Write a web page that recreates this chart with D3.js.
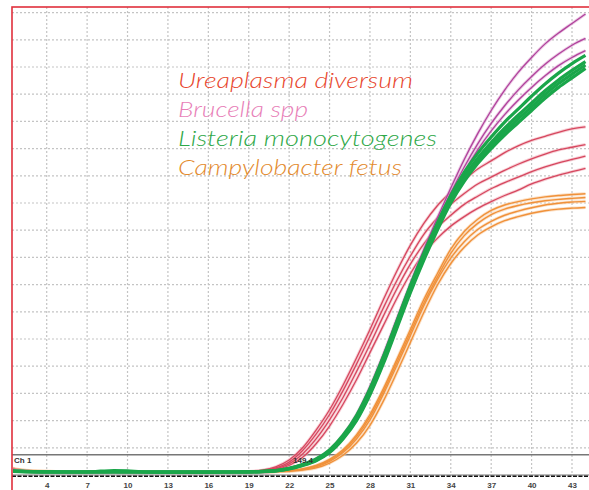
<!DOCTYPE html>
<html><head><meta charset="utf-8">
<script src="https://cdn.jsdelivr.net/npm/d3@7"></script>
<style>html,body{margin:0;padding:0;background:#fff;}svg{display:block;}</style>
</head><body>
<script>
const cycles = [1,2,3,4,5,6,7,8,9,10,11,12,13,14,15,16,17,18,19,20,21,22,23,24,25,26,27,28,29,30,31,32,33,34,35,36,37,38,39,40,41,42,43,44];
const tickCycles = [4,7,10,13,16,19,22,25,28,31,34,37,40,43];
const gridValues = [200,400,600,800,1000,1200,1400,1600,1800,2000,2200,2400,2600,2800,3000,3200,3400];
const threshold = 149.4;
const channelLabel = "Ch 1";
const legendNames = ["Ureaplasma diversum","Brucella spp","Listeria monocytogenes","Campylobacter fetus"];

// Ureaplasma diversum (red)
const ureaplasma = [
 [55,35,26,22,21,20,20,21,20,20,21,20,20,20,21,20,21,22,25,35,60,110,200,330,480,660,860,1070,1290,1500,1690,1850,1980,2080,2170,2250,2310,2370,2420,2460,2490,2520,2545,2560],
 [48,32,25,22,20,20,21,20,20,21,20,20,21,20,20,20,21,21,24,32,52,95,180,300,445,620,815,1020,1230,1430,1610,1770,1890,1990,2070,2140,2190,2240,2285,2325,2360,2390,2410,2430],
 [50,30,24,21,20,21,20,20,20,20,21,20,20,20,21,20,20,21,23,30,46,82,155,265,405,570,760,960,1170,1370,1550,1700,1820,1910,1990,2050,2105,2150,2190,2230,2265,2295,2320,2345],
 [45,30,24,21,20,20,20,21,20,20,20,21,20,20,20,20,21,21,22,28,40,70,130,230,360,520,700,900,1100,1300,1480,1630,1740,1830,1900,1960,2010,2055,2095,2140,2175,2205,2230,2255]
];
// Brucella spp (magenta)
const brucella = [
 [40,30,25,22,21,21,21,21,21,21,21,21,21,21,21,21,21,22,22,22,30,48,78,118,185,295,445,650,890,1150,1410,1660,1890,2110,2320,2510,2680,2830,2960,3070,3170,3250,3320,3390],
 [38,29,25,22,21,21,21,21,21,21,21,21,21,21,21,21,21,22,22,22,30,47,76,115,180,288,435,638,875,1135,1395,1640,1865,2075,2265,2435,2585,2715,2830,2930,3020,3095,3160,3210],
 [36,28,24,22,21,21,21,21,21,21,21,21,21,21,21,21,21,22,22,22,29,46,74,112,176,282,428,628,862,1122,1380,1625,1845,2050,2230,2390,2530,2650,2755,2850,2935,3010,3070,3120]
];
// Listeria monocytogenes (green)
const listeria = [
 [35,28,25,24,23,22,22,23,24,23,22,22,21,21,21,21,22,22,23,25,30,45,70,105,165,265,400,590,820,1080,1340,1580,1800,2000,2160,2290,2400,2500,2590,2680,2770,2850,2920,2990],
 [30,26,24,23,22,22,23,28,32,30,24,22,22,21,21,21,22,22,23,26,32,48,75,112,175,280,420,615,850,1110,1370,1610,1830,2030,2195,2330,2445,2550,2645,2735,2825,2905,2975,3040],
 [32,27,24,23,22,22,22,22,23,22,22,22,21,21,21,21,22,22,24,27,33,50,78,118,185,292,438,635,872,1132,1392,1632,1852,2055,2225,2365,2485,2595,2690,2785,2875,2955,3025,3085],
 [28,25,23,22,22,22,22,22,22,22,22,21,21,21,21,21,22,22,23,25,31,46,72,108,170,272,410,602,835,1095,1355,1595,1815,2015,2178,2310,2422,2525,2618,2708,2798,2878,2948,3015]
];
// Campylobacter fetus (orange)
const campylobacter = [
 [60,40,30,26,25,24,24,24,25,24,24,24,23,23,23,23,23,23,23,24,26,32,45,70,115,185,295,445,635,850,1070,1290,1480,1660,1790,1880,1945,1985,2010,2030,2045,2055,2062,2068],
 [50,35,28,25,24,24,24,24,24,24,23,23,23,23,23,23,23,23,23,23,25,30,40,60,100,165,265,405,595,805,1025,1245,1435,1595,1715,1805,1865,1910,1940,1965,1985,1998,2007,2012],
 [45,32,27,25,24,24,24,24,23,23,23,23,23,23,23,23,23,23,23,23,24,28,36,52,88,145,235,365,545,755,975,1195,1395,1555,1675,1765,1825,1870,1900,1925,1943,1955,1962,1967],
 [55,38,29,26,25,24,24,24,24,24,24,23,23,23,23,23,23,23,23,24,26,31,43,66,108,175,282,428,615,828,1048,1265,1455,1630,1760,1850,1915,1955,1982,2002,2017,2027,2034,2040]
];

const W = 589, H = 490;
const pLeft = 12, pTop = 7, pRight = 589, pBottom = 476;
const svg = d3.select("body").append("svg").attr("width", W).attr("height", H);

const x = d3.scaleLinear().domain([4, 43]).range([46.7, 572]);
const y = d3.scaleLinear().domain([0, 3400]).range([475, 12.6]);

svg.append("defs").append("clipPath").attr("id","plot")
  .append("rect").attr("x", pLeft+1).attr("y", pTop+1).attr("width", pRight-pLeft).attr("height", pBottom-pTop);

// grid
const grid = svg.append("g");
grid.selectAll("line.h").data(gridValues).join("line")
  .attr("x1", pLeft).attr("x2", pRight).attr("y1", d=>y(d)).attr("y2", d=>y(d))
  .attr("stroke","#c4c4c4").attr("stroke-width",1.2).attr("stroke-dasharray","2,2");
grid.selectAll("line.v").data(tickCycles).join("line")
  .attr("x1", d=>x(d)).attr("x2", d=>x(d)).attr("y1", pTop).attr("y2", pBottom)
  .attr("stroke","#c4c4c4").attr("stroke-width",1.2).attr("stroke-dasharray","2,2");

// threshold
svg.append("line").attr("x1", pLeft).attr("x2", pRight).attr("y1", y(threshold)).attr("y2", y(threshold))
  .attr("stroke","#777").attr("stroke-width",1.4);

// baseline
svg.append("line").attr("x1", pLeft).attr("x2", pRight).attr("y1", y(0)).attr("y2", y(0))
  .attr("stroke","#777").attr("stroke-width",1);
svg.append("line").attr("x1", pLeft).attr("x2", pRight).attr("y1", y(0)+1.2).attr("y2", y(0)+1.2)
  .attr("stroke","#111").attr("stroke-width",1.6).attr("stroke-dasharray","4,1.5");

// curves
const line = d3.line().x((d,i)=>x(cycles[i])).y(d=>y(d)).curve(d3.curveMonotoneX);
const curves = svg.append("g").attr("clip-path","url(#plot)");
function drawGroup(data, color, width, halo) {
  const g = curves.append("g");
  if (halo) {
    g.selectAll("path.h").data(data).join("path").attr("class","h").attr("d", line)
      .attr("fill","none").attr("stroke",halo).attr("stroke-width",width+1.8).attr("opacity",0.55);
  }
  g.selectAll("path.c").data(data).join("path").attr("class","c").attr("d", line)
    .attr("fill","none").attr("stroke",color).attr("stroke-width",width);
}
drawGroup(campylobacter, "#f0913a", 1.4, "#f8c89a");
drawGroup(ureaplasma, "#d6475f", 1.3, "#f0aab5");
drawGroup(brucella, "#b0429c", 1.3, "#dca0d0");
drawGroup(listeria, "#1aa64a", 3.2, null);

svg.append("text").attr("x", 14).attr("y", y(threshold)+8).text(channelLabel)
  .attr("font-family","Liberation Sans, Arial").attr("font-size",8).attr("font-weight","bold").attr("fill","#333");
svg.append("text").attr("x", 293).attr("y", y(threshold)+8).text(threshold.toFixed(1))
  .attr("font-family","Liberation Sans, Arial").attr("font-size",8).attr("font-weight","bold").attr("fill","#333");

// axis labels
const axis = d3.axisBottom(x).tickValues(tickCycles).tickSize(0).tickPadding(6).tickFormat(d3.format("d"));
const ax = svg.append("g").attr("transform", `translate(0,${pBottom})`).call(axis);
ax.select(".domain").remove();
ax.selectAll("text").attr("font-family","Liberation Sans, Arial").attr("font-size",8).attr("font-weight","bold").attr("fill","#444");

// frame
svg.append("rect").attr("x", pLeft).attr("y", pTop).attr("width", 700).attr("height", 600)
  .attr("fill","none").attr("stroke","#e0303c").attr("stroke-width",1.6);

// legend
const legendColors = ["#e8472e","#e87fb8","#2ea848","#e38a2d"];
const legendY = [88, 117, 146, 175];
const legendW = [235, 130, 259, 224];
const lg = svg.append("g");
legendNames.forEach((n,i)=>{
  lg.append("text").attr("x",178).attr("y",legendY[i]).text(n)
    .attr("font-family","Lato, 'Open Sans', sans-serif").attr("font-style","italic").attr("font-weight",300)
    .attr("font-size",21).attr("fill",legendColors[i])
    .attr("textLength", legendW[i]).attr("lengthAdjust","spacingAndGlyphs");
});
</script>
</body></html>
